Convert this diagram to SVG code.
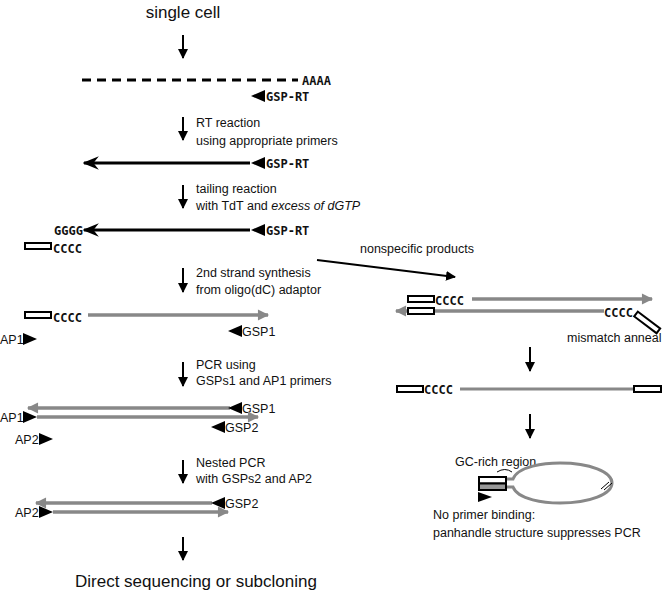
<svg xmlns="http://www.w3.org/2000/svg" width="663" height="594" viewBox="0 0 663 594">
<defs>
<style>
.t{font-family:"Liberation Sans",Arial,sans-serif;font-size:12.5px;fill:#111}
.big{font-family:"Liberation Sans",Arial,sans-serif;font-size:17px;fill:#111}
.seq{font-family:"DejaVu Sans Mono",monospace;font-size:12px;font-weight:bold;fill:#111}
.down{stroke:#000;stroke-width:2;fill:none}
.blk{stroke:#000;stroke-width:3;fill:none}
.gry{stroke:#888;stroke-width:3.5;fill:none}
.box{fill:#fff;stroke:#000;stroke-width:2}
.tri{fill:#000}
</style>
<marker id="dh" viewBox="0 0 10 10" refX="9" refY="5" markerWidth="5" markerHeight="5" orient="auto" markerUnits="strokeWidth"><path d="M0,0 L10,5 L0,10 Z" fill="#000"/></marker>
<marker id="bh" viewBox="0 0 12 10" refX="11" refY="5" markerWidth="5.5" markerHeight="4.5" orient="auto" markerUnits="strokeWidth"><path d="M0,0 L12,5 L0,10 L4,5 Z" fill="#000"/></marker>
<marker id="gh" viewBox="0 0 10 10" refX="9" refY="5" markerWidth="4.5" markerHeight="3.2" orient="auto" markerUnits="strokeWidth"><path d="M0,0 L10,5 L0,10 Z" fill="#888"/></marker>
</defs>

<g id="connectors">
<line class="down" x1="183" y1="35" x2="183" y2="58" marker-end="url(#dh)"/>
<line class="down" x1="183" y1="117" x2="183" y2="140" marker-end="url(#dh)"/>
<line class="down" x1="183" y1="185" x2="183" y2="208" marker-end="url(#dh)"/>
<line class="down" x1="183" y1="268" x2="183" y2="292" marker-end="url(#dh)"/>
<line class="down" x1="183" y1="362" x2="183" y2="386" marker-end="url(#dh)"/>
<line class="down" x1="183" y1="460" x2="183" y2="483" marker-end="url(#dh)"/>
<line class="down" x1="183" y1="537" x2="183" y2="560" marker-end="url(#dh)"/>
<line class="down" x1="317" y1="260" x2="455" y2="277" marker-end="url(#dh)"/>
<line class="down" x1="530" y1="347" x2="530" y2="371" marker-end="url(#dh)"/>
<line class="down" x1="530" y1="414" x2="530" y2="438" marker-end="url(#dh)"/>
</g>

<g id="title"><text class="big" x="183" y="18" text-anchor="middle">single cell</text></g>

<g id="mrna">
<line x1="82" y1="80" x2="298" y2="80" stroke="#000" stroke-width="3" stroke-dasharray="9,6"/>
<text class="seq" x="302" y="85">AAAA</text>
<path class="tri" d="M251,96 L265,90 L265,102 Z"/>
<text class="seq" x="266" y="101">GSP-RT</text>
</g>

<g id="step-rt">
<text class="t" x="196" y="127">RT reaction</text>
<text class="t" x="196" y="145">using appropriate primers</text>
</g>

<g id="cdna">
<line class="blk" x1="250" y1="163" x2="84" y2="163" marker-end="url(#bh)"/>
<path class="tri" d="M251,163 L265,157 L265,169 Z"/>
<text class="seq" x="266" y="168">GSP-RT</text>
</g>

<g id="step-tail">
<text class="t" x="196" y="193">tailing reaction</text>
<text class="t" x="196" y="210">with TdT and <tspan font-style="italic">excess of dGTP</tspan></text>
</g>

<g id="tailed">
<text class="seq" x="54" y="235">GGGG</text>
<line class="blk" x1="250" y1="230" x2="84" y2="230" marker-end="url(#bh)"/>
<path class="tri" d="M251,230 L265,224 L265,236 Z"/>
<text class="seq" x="266" y="235">GSP-RT</text>
<rect class="box" x="25" y="243" width="26" height="6"/>
<text class="seq" x="53" y="253">CCCC</text>
</g>

<g id="step-2nd">
<text class="t" x="196" y="277">2nd strand synthesis</text>
<text class="t" x="196" y="294">from oligo(dC) adaptor</text>
</g>

<g id="second-strand">
<rect class="box" x="25" y="312" width="26" height="6"/>
<text class="seq" x="53" y="322">CCCC</text>
<line class="gry" x1="88" y1="315" x2="268" y2="315" marker-end="url(#gh)"/>
<path class="tri" d="M228,331 L242,325 L242,337 Z"/>
<text class="t" x="242" y="336">GSP1</text>
<text class="t" x="0" y="344">AP1</text>
<path class="tri" d="M37,339 L23,333 L23,345 Z"/>
</g>

<g id="step-pcr">
<text class="t" x="196" y="369">PCR using</text>
<text class="t" x="196" y="385">GSPs1 and AP1 primers</text>
</g>

<g id="pcr-product">
<line class="gry" x1="230" y1="408" x2="28" y2="408" marker-end="url(#gh)"/>
<path class="tri" d="M228,408 L242,402 L242,414 Z"/>
<text class="t" x="242" y="413">GSP1</text>
<line class="gry" x1="37" y1="417" x2="258" y2="417" marker-end="url(#gh)"/>
<text class="t" x="0" y="422">AP1</text>
<path class="tri" d="M37,417 L23,411 L23,423 Z"/>
<path class="tri" d="M211,427 L225,421 L225,433 Z"/>
<text class="t" x="225" y="432">GSP2</text>
<text class="t" x="15" y="444">AP2</text>
<path class="tri" d="M53,439 L39,433 L39,445 Z"/>
</g>

<g id="step-nested">
<text class="t" x="196" y="467">Nested PCR</text>
<text class="t" x="196" y="483">with GSPs2 and AP2</text>
</g>

<g id="nested-product">
<line class="gry" x1="212" y1="503" x2="36" y2="503" marker-end="url(#gh)"/>
<path class="tri" d="M211,503 L225,497 L225,509 Z"/>
<text class="t" x="225" y="508">GSP2</text>
<line class="gry" x1="53" y1="512" x2="228" y2="512" marker-end="url(#gh)"/>
<text class="t" x="15" y="517">AP2</text>
<path class="tri" d="M53,512 L39,506 L39,518 Z"/>
</g>

<g id="final"><text class="big" x="75" y="587">Direct sequencing or subcloning</text></g>

<g id="nonspecific">
<text class="t" x="360" y="253">nonspecific products</text>
</g>

<g id="mismatch">
<rect class="box" x="408" y="296" width="26" height="6"/>
<text class="seq" x="435" y="305">CCCC</text>
<line class="gry" x1="472" y1="299" x2="652" y2="299" marker-end="url(#gh)"/>
<line class="gry" x1="604" y1="311" x2="396" y2="311" marker-end="url(#gh)"/>
<rect class="box" x="408" y="308" width="26" height="6"/>
<text class="seq" x="604" y="317">CCCC</text>
<rect class="box" x="0" y="-3" width="28" height="6" transform="translate(636,314) rotate(37)"/>
<text class="t" x="567" y="342">mismatch anneal</text>
</g>

<g id="annealed">
<rect class="box" x="397" y="386" width="26" height="6"/>
<text class="seq" x="424" y="394">CCCC</text>
<line x1="460" y1="389" x2="634" y2="389" stroke="#888" stroke-width="3"/>
<rect class="box" x="634" y="386" width="27" height="6"/>
</g>

<g id="panhandle">
<text class="t" x="455" y="466">GC-rich region</text>
<path d="M497,472 Q505,467 512,472" fill="none" stroke="#000" stroke-width="1"/>
<path d="M506,479 L513,479 C518,466 545,463 560,463 C590,463 612,472 612,483 C612,494 590,503 560,503 C545,503 518,500 513,487 L506,487" fill="none" stroke="#888" stroke-width="3"/>
<rect x="479" y="477" width="27" height="6.5" fill="#fff" stroke="#000" stroke-width="2"/>
<rect x="479" y="483.5" width="27" height="6.5" fill="#999" stroke="#000" stroke-width="2"/>
<path d="M601,489 L609,482 M604,490 L612,483" stroke="#000" stroke-width="1"/>
<path class="tri" d="M492,497 L478,492 L478,502 Z"/>
<text class="t" x="433" y="519">No primer binding:</text>
<text class="t" x="433" y="537">panhandle structure suppresses PCR</text>
</g>
</svg>
